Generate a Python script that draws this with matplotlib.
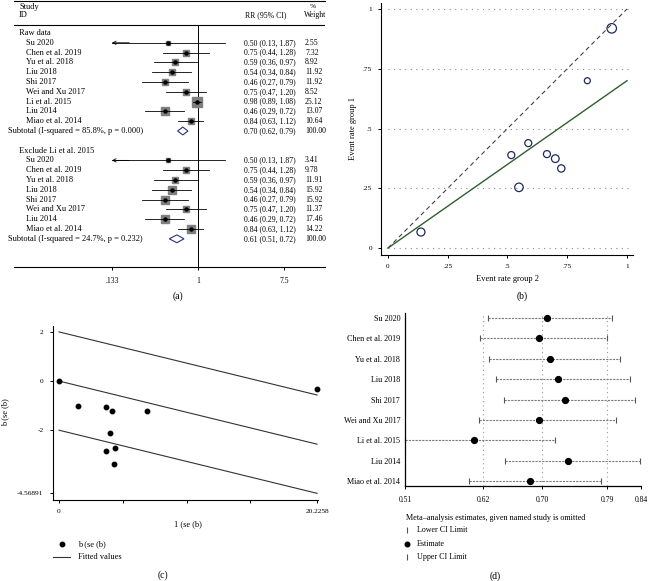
import numpy as np
import matplotlib
matplotlib.use("Agg")
import matplotlib.pyplot as plt
from matplotlib.ticker import NullLocator

plt.rcParams["font.family"] = ["Liberation Serif", "DejaVu Serif"]
plt.rcParams["axes.unicode_minus"] = False

W, H = 648, 581

# ---- (a) forest plot ----
raw_studies = ["Su 2020", "Chen et al. 2019", "Yu et al. 2018", "Liu 2018", "Shi 2017",
               "Wei and Xu 2017", "Li et al. 2015", "Liu 2014", "Miao et al. 2014"]
raw_rr = [0.50, 0.75, 0.59, 0.54, 0.46, 0.75, 0.98, 0.46, 0.84]
raw_lo = [0.13, 0.44, 0.36, 0.34, 0.27, 0.47, 0.89, 0.29, 0.63]
raw_hi = [1.87, 1.28, 0.97, 0.84, 0.79, 1.20, 1.08, 0.72, 1.12]
raw_weight = [2.55, 7.32, 8.92, 11.92, 11.92, 8.52, 25.12, 13.07, 10.64]
raw_pooled = [0.70, 0.62, 0.79]
raw_i2, raw_p = 85.8, 0.000

excl_studies = ["Su 2020", "Chen et al. 2019", "Yu et al. 2018", "Liu 2018", "Shi 2017",
                "Wei and Xu 2017", "Liu 2014", "Miao et al. 2014"]
excl_rr = [0.50, 0.75, 0.59, 0.54, 0.46, 0.75, 0.46, 0.84]
excl_lo = [0.13, 0.44, 0.36, 0.34, 0.27, 0.47, 0.29, 0.63]
excl_hi = [1.87, 1.28, 0.97, 0.84, 0.79, 1.20, 0.72, 1.12]
excl_weight = [3.41, 9.78, 11.91, 15.92, 15.92, 11.37, 17.46, 14.22]
excl_pooled = [0.61, 0.51, 0.72]
excl_i2, excl_p = 24.7, 0.232

forest_ticks = [0.133, 1, 7.5]
forest_ticklabels = [".133", "1", "7.5"]

# ---- (b) L'Abbe plot ----
rate_group2 = [0.138, 0.516, 0.548, 0.587, 0.665, 0.700, 0.725, 0.834, 0.936]
rate_group1 = [0.067, 0.389, 0.254, 0.439, 0.393, 0.374, 0.333, 0.700, 0.919]
bubble_px = [8.0, 7.0, 8.5, 7.0, 7.0, 7.7, 7.3, 6.0, 9.5]
labbe_slope = 0.70
labbe_ticks = [0, 0.25, 0.5, 0.75, 1]

# ---- (c) Galbraith plot ----
galb_x = [0, 1.52, 3.68, 4.18, 6.92, 4.0, 3.68, 4.39, 4.3, 20.2258]
galb_y = [0, -1.03, -1.04, -1.21, -1.21, -2.10, -2.83, -2.72, -3.36, -0.34]
galb_slope = -0.127
galb_band = [2, 0, -2]
galb_xmax = 20.2258
galb_xticks = [0, 5, 10, 15, 20.2258]
galb_xticklabels = ["0", "", "", "", "20.2258"]
galb_yticks = [2, 0, -2, -4.56891]

# ---- (d) influence analysis ----
infl_studies = raw_studies
infl_est = [0.709, 0.698, 0.714, 0.725, 0.735, 0.698, 0.607, 0.739, 0.686]
infl_lo = [0.627, 0.616, 0.629, 0.638, 0.649, 0.615, 0.511, 0.651, 0.600]
infl_hi = [0.801, 0.793, 0.811, 0.825, 0.833, 0.806, 0.721, 0.840, 0.785]
infl_ticks = [0.511, 0.620, 0.703, 0.794, 0.841]


def px_axes(fig, left, top, right, bottom):
    return fig.add_axes([left / W, 1 - bottom / H, (right - left) / W, (bottom - top) / H])


def stata_label(v):
    return f"{v:g}".lstrip("0") or "0"


fig = plt.figure(figsize=(W / 100, H / 100), dpi=100)
fig.patch.set_facecolor("white")

# ================= (a) =================
ax = px_axes(fig, 14, 1, 325, 267)
ROW0, ROW = 33, 9.8


def row_of(px):
    return (px - ROW0) / ROW


ax.set_xscale("log")
ax.set_xlim(10 ** -1.872, 10 ** 1.292)
ax.set_ylim(row_of(267), row_of(1))
for s in ("left", "right", "top"):
    ax.spines[s].set_visible(False)
ax.spines["bottom"].set_linewidth(0.8)
ax.set_xticks(forest_ticks)
ax.set_xticklabels(forest_ticklabels)
ax.xaxis.set_minor_locator(NullLocator())
ax.tick_params(axis="x", length=2.5, width=0.7, pad=4.5, labelsize=5.5)
ax.tick_params(axis="y", left=False, labelleft=False)
ax.patch.set_alpha(0)

ax.axhline(row_of(1), color="k", lw=0.8, clip_on=False)
ax.axhline(row_of(25), color="k", lw=0.8)
ax.plot([1, 1], [row_of(25), row_of(267)], color="k", lw=0.7)

tr = ax.get_yaxis_transform()


def fx(px):
    return (px - 14) / 311


ax.text(fx(19), row_of(7), "Study", transform=tr, va="center", fontsize=6)
ax.text(fx(19), row_of(15), "ID", transform=tr, va="center", fontsize=6)
ax.text(fx(245), row_of(15), "RR (95% CI)", transform=tr, va="center", fontsize=5.6)
ax.text(fx(313), row_of(7), "%", transform=tr, va="center", ha="center", fontsize=5.3)
ax.text(fx(304), row_of(15), "Weight", transform=tr, va="center", fontsize=5.6)

clip = forest_ticks[0]


def draw_group(start, title, studies, rr, lo, hi, wt, pooled, i2, p):
    ax.text(fx(19), start, title, transform=tr, va="center", fontsize=6)
    rows = np.arange(start + 1, start + 1 + len(studies))
    for r, name, e, l, h, w in zip(rows, studies, rr, lo, hi, wt):
        ax.plot(e, r, "s", ms=2.0 * np.sqrt(w) * 0.72, color="#7f7f7f", zorder=2)
        ax.plot([max(l, clip), h], [r, r], color="k", lw=0.6, zorder=3)
        if l < clip:
            ax.annotate("", xy=(clip, r), xytext=(clip * 1.5, r),
                        arrowprops=dict(arrowstyle="->", lw=0.6, color="k",
                                        shrinkA=0, shrinkB=0, mutation_scale=6))
        ax.plot(e, r, "o", ms=2.2, color="k", zorder=4)
        ax.text(fx(26), r, name, transform=tr, va="center", fontsize=6)
        ax.text(fx(244), r, f"{e:.2f} ({l:.2f}, {h:.2f})", transform=tr, va="center", fontsize=5.6)
        ax.text(fx(305), r, f"{w:.2f}", transform=tr, va="center", fontsize=5.6)
    sub = start + 1 + len(studies)
    e, l, h = pooled
    ax.fill([l, e, h, e], [sub, sub - 0.4, sub, sub + 0.4], facecolor="none",
            edgecolor="#27337d", lw=0.8, zorder=3)
    ax.text(fx(8), sub, f"Subtotal (I-squared = {i2:.1f}%, p = {p:.3f})",
            transform=tr, va="center", fontsize=6)
    ax.text(fx(244), sub, f"{e:.2f} ({l:.2f}, {h:.2f})", transform=tr, va="center", fontsize=5.6)
    ax.text(fx(305), sub, f"{100:.2f}", transform=tr, va="center", fontsize=5.6)


draw_group(0, "Raw data", raw_studies, raw_rr, raw_lo, raw_hi, raw_weight, raw_pooled, raw_i2, raw_p)
draw_group(12, "Exclude Li et al. 2015", excl_studies, excl_rr, excl_lo, excl_hi, excl_weight,
           excl_pooled, excl_i2, excl_p)

# ================= (b) =================
bx = px_axes(fig, 381, 3, 633, 255)
bx.set_xlim(-0.029, 1.025)
bx.set_ylim(-0.029, 1.025)
for s in ("right", "top"):
    bx.spines[s].set_visible(False)
for s in ("left", "bottom"):
    bx.spines[s].set_linewidth(0.8)
bx.set_xticks(labbe_ticks)
bx.set_xticklabels([stata_label(v) for v in labbe_ticks])
bx.set_yticks(labbe_ticks)
bx.set_yticklabels([stata_label(v) for v in labbe_ticks])
bx.tick_params(length=2.5, width=0.7, pad=4, labelsize=5.2)
bx.hlines(labbe_ticks, 0, 1.025, colors="#8a8a8a", linestyles=(0, (1, 4)), lw=0.8)
bx.plot([0, 1], [0, 1], ls=(0, (4, 3)), color="#444444", lw=0.8)
bx.plot([0, 1], [0, labbe_slope], color="#2f5e2f", lw=1.0)
bx.scatter(rate_group2, rate_group1, s=(np.array(bubble_px) * 0.72) ** 2,
           facecolors="none", edgecolors="#1f2b5e", linewidths=0.9, zorder=3)

# ================= (c) =================
cx = px_axes(fig, 53, 326, 318, 500)
cx.set_xlim(-0.47, 20.3)
cx.set_ylim(-4.84, 2.24)
for s in ("right", "top"):
    cx.spines[s].set_visible(False)
for s in ("left", "bottom"):
    cx.spines[s].set_linewidth(0.8)
cx.set_xticks(galb_xticks)
cx.set_xticklabels(galb_xticklabels)
cx.set_yticks(galb_yticks)
cx.set_yticklabels([f"{v:g}" for v in galb_yticks])
cx.tick_params(length=2.5, width=0.7, pad=4.3, labelsize=5.3)
xx = np.array([0, galb_xmax])
for off in galb_band:
    cx.plot(xx, off + galb_slope * xx, color="#333333", lw=0.8)
cx.plot(galb_x, galb_y, "o", ms=3.2, color="k", clip_on=False, zorder=3)

# ================= (d) =================
dx = px_axes(fig, 405, 313, 641, 486)
rows = np.arange(len(infl_studies))
dx.set_xlim(infl_ticks[0], infl_ticks[-1])
dx.set_ylim(len(rows) - 0.75, -0.25)
for s in ("right", "top"):
    dx.spines[s].set_visible(False)
for s in ("left", "bottom"):
    dx.spines[s].set_linewidth(0.9)
dx.set_xticks(infl_ticks)
dx.set_xticklabels([f"{v:.2f}" for v in infl_ticks])
dx.set_yticks(rows)
dx.set_yticklabels(infl_studies)
dx.tick_params(axis="x", length=2.5, width=0.7, pad=5, labelsize=5.5)
dx.tick_params(axis="y", length=0, pad=3.5, labelsize=5.9)
dx.vlines(infl_ticks[1:4], len(rows) - 0.75, -0.25, colors="#9a9a9a",
          linestyles=(0, (1, 3)), lw=0.8)
dx.hlines(rows, infl_lo, infl_hi, colors="#7a7a7a", linestyles=(0, (2, 1)), lw=0.8)
dx.plot(infl_lo, rows, "|", ms=5, mew=0.8, color="#555555", clip_on=False)
dx.plot(infl_hi, rows, "|", ms=5, mew=0.8, color="#555555", clip_on=False)
dx.plot(infl_est, rows, "o", ms=4.2, color="k", zorder=3)

# ================= overlay: labels and legends =================
ov = fig.add_axes([0, 0, 1, 1])
ov.set_xlim(0, W)
ov.set_ylim(H, 0)
ov.axis("off")

ov.text(178, 296, "(a)", ha="center", va="center", fontsize=7)
ov.text(522, 296, "(b)", ha="center", va="center", fontsize=7)
ov.text(163, 575, "(c)", ha="center", va="center", fontsize=7)
ov.text(495, 576, "(d)", ha="center", va="center", fontsize=7)

ov.text(353, 128, "Event rate group 1", rotation=90, ha="center", va="center", fontsize=6)
ov.text(507, 279, "Event rate group 2", ha="center", va="center", fontsize=6)
ov.text(5, 412, "b (se (b)", rotation=90, ha="center", va="center", fontsize=6)
ov.text(188, 524, "1 (se (b)", ha="center", va="center", fontsize=6)

ov.plot(62, 544, "o", ms=3.2, color="k")
ov.text(78, 544, "b (se (b)", va="center", fontsize=6)
ov.plot([53, 70], [557, 557], color="#333333", lw=0.8)
ov.text(78, 557, "Fitted values", va="center", fontsize=6)

ov.text(406, 518, "Meta\u2013analysis estimates, given named study is omitted", va="center", fontsize=5.9)
ov.plot(407, 530, "|", ms=4, mew=0.8, color="#555555")
ov.text(417, 530, "Lower CI Limit", va="center", fontsize=5.8)
ov.plot(407, 544, "o", ms=3.3, color="k")
ov.text(417, 544, "Estimate", va="center", fontsize=5.8)
ov.plot(407, 557, "|", ms=4, mew=0.8, color="#555555")
ov.text(417, 557, "Upper CI Limit", va="center", fontsize=5.8)

fig.savefig("out.png", dpi=100)
